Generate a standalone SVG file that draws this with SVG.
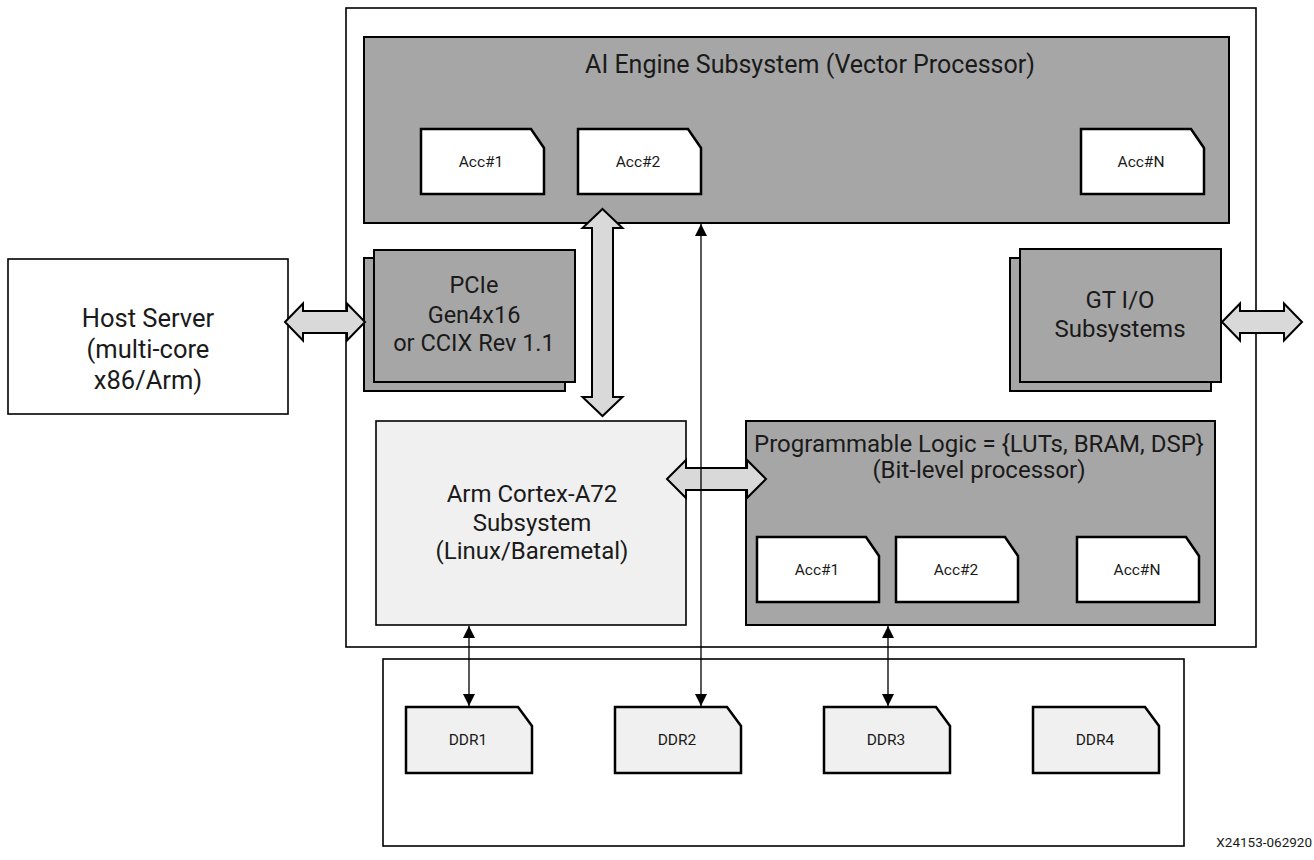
<svg xmlns="http://www.w3.org/2000/svg" width="1314" height="860" viewBox="0 0 1314 860">
  <defs>
    <marker id="ah" viewBox="0 0 12 16" refX="12" refY="8" markerWidth="12" markerHeight="16" markerUnits="userSpaceOnUse" orient="auto-start-reverse">
      <path d="M0,2 L12,8 L0,14 Z" fill="#000"/>
    </marker>
    <style>
      text { font-family: Roboto, "Liberation Sans", sans-serif; fill: #1a1a1a; text-anchor: middle; }
      .frame { fill: #fff; stroke: #000; stroke-width: 1.6; }
      .dark { fill: #a6a6a6; stroke: #000; stroke-width: 2; }
      .light { fill: #f0f0f0; stroke: #000; stroke-width: 1.6; }
      .acc { fill: #fff; stroke: #000; stroke-width: 2.5; }
      .ddr { fill: #f0f0f0; stroke: #000; stroke-width: 2.5; }
      .fat { fill: #d9d9d9; stroke: #000; stroke-width: 2; stroke-linejoin: miter; }
      .thin { stroke: #000; stroke-width: 1.3; fill: none; marker-start: url(#ah); marker-end: url(#ah); }
      .big { font-size: 25.5px; }
      .mid { font-size: 24px; }
      .small { font-size: 15.5px; }
      .tag { font-size: 13.5px; text-anchor: end; }
    </style>
  </defs>
  <rect width="1314" height="860" fill="#fff"/>

  <!-- device boundary -->
  <g id="device">
    <rect class="frame" x="346" y="8" width="910" height="639"/>
  </g>

  <!-- memory boundary -->
  <g id="memory">
    <rect class="frame" x="383" y="659" width="801" height="187"/>
  </g>

  <g id="host">
    <rect class="frame" x="8" y="259" width="280" height="155"/>
    <text class="big" x="148" y="327">Host Server</text>
    <text class="big" x="148" y="358">(multi-core</text>
    <text class="big" x="148" y="389">x86/Arm)</text>
  </g>

  <g id="aie">
    <rect class="dark" x="364" y="37" width="865" height="186"/>
    <text class="big" x="810" y="73" style="font-size:25px">AI Engine Subsystem (Vector Processor)</text>
  </g>

  <g id="aie-acc1">
    <path class="acc" d="M421,129 H531 L544,148 V194 H421 Z"/>
    <text class="small" x="481" y="167">Acc#1</text>
  </g>
  <g id="aie-acc2">
    <path class="acc" d="M578,129 H688 L701,148 V194 H578 Z"/>
    <text class="small" x="638" y="167">Acc#2</text>
  </g>
  <g id="aie-accn">
    <path class="acc" d="M1081,129 H1191 L1204,148 V194 H1081 Z"/>
    <text class="small" x="1141" y="167">Acc#N</text>
  </g>

  <g id="pcie">
    <rect class="dark" x="364" y="258" width="201" height="133"/>
    <rect class="dark" x="374" y="250" width="201" height="132"/>
    <text class="mid" x="474" y="293" style="font-size:23.5px">PCIe</text>
    <text class="mid" x="474" y="323" style="font-size:23.5px">Gen4x16</text>
    <text class="mid" x="474" y="351" style="font-size:23.5px">or CCIX Rev 1.1</text>
  </g>

  <g id="gtio">
    <rect class="dark" x="1010" y="258" width="201" height="133"/>
    <rect class="dark" x="1020" y="249" width="201" height="133"/>
    <text class="mid" x="1120" y="308">GT I/O</text>
    <text class="mid" x="1120" y="337">Subsystems</text>
  </g>

  <g id="arm">
    <rect class="light" x="376" y="421" width="310" height="204"/>
    <text class="mid" x="532" y="502">Arm Cortex-A72</text>
    <text class="mid" x="532" y="531">Subsystem</text>
    <text class="mid" x="532" y="559">(Linux/Baremetal)</text>
  </g>

  <g id="pl">
    <rect class="dark" x="746" y="421" width="469" height="204"/>
    <text class="mid" x="979" y="452">Programmable Logic = {LUTs, BRAM, DSP}</text>
    <text class="mid" x="979" y="478">(Bit-level processor)</text>
  </g>

  <g id="pl-acc1">
    <path class="acc" d="M757,537 H866 L879,556 V602 H757 Z"/>
    <text class="small" x="817" y="575">Acc#1</text>
  </g>
  <g id="pl-acc2">
    <path class="acc" d="M896,537 H1005 L1018,556 V602 H896 Z"/>
    <text class="small" x="956" y="575">Acc#2</text>
  </g>
  <g id="pl-accn">
    <path class="acc" d="M1077,537 H1186 L1199,556 V602 H1077 Z"/>
    <text class="small" x="1137" y="575">Acc#N</text>
  </g>

  <g id="ddr1">
    <path class="ddr" d="M406,707 H518 L532,726 V773 H406 Z"/>
    <text class="small" x="468" y="745">DDR1</text>
  </g>
  <g id="ddr2">
    <path class="ddr" d="M615,707 H727 L741,726 V773 H615 Z"/>
    <text class="small" x="677" y="745">DDR2</text>
  </g>
  <g id="ddr3">
    <path class="ddr" d="M824,707 H936 L950,726 V773 H824 Z"/>
    <text class="small" x="886" y="745">DDR3</text>
  </g>
  <g id="ddr4">
    <path class="ddr" d="M1033,707 H1145 L1159,726 V773 H1033 Z"/>
    <text class="small" x="1095" y="745">DDR4</text>
  </g>

  <!-- connectors -->
  <g id="connectors">
    <!-- wide bidirectional buses -->
    <polygon class="fat" points="602.5,209 622.5,228 613,228 613,397 622.5,397 602.5,416 582.5,397 592,397 592,228 582.5,228"/>
    <polygon class="fat" points="285,322 303,303.5 303,311 347,311 347,303.5 365,322 347,340.5 347,333 303,333 303,340.5"/>
    <polygon class="fat" points="1222,322 1240,303.5 1240,311 1284,311 1284,303.5 1302,322 1284,340.5 1284,333 1240,333 1240,340.5"/>
    <polygon class="fat" points="667,479 686,460 686,468 747,468 747,460 766,479 747,498 747,490 686,490 686,498"/>
    <!-- memory links -->
    <line class="thin" x1="701" y1="224" x2="701" y2="706"/>
    <line class="thin" x1="469" y1="626" x2="469" y2="706"/>
    <line class="thin" x1="888" y1="626" x2="888" y2="706"/>
  </g>

  <text class="tag" x="1312" y="847">X24153-062920</text>
</svg>
